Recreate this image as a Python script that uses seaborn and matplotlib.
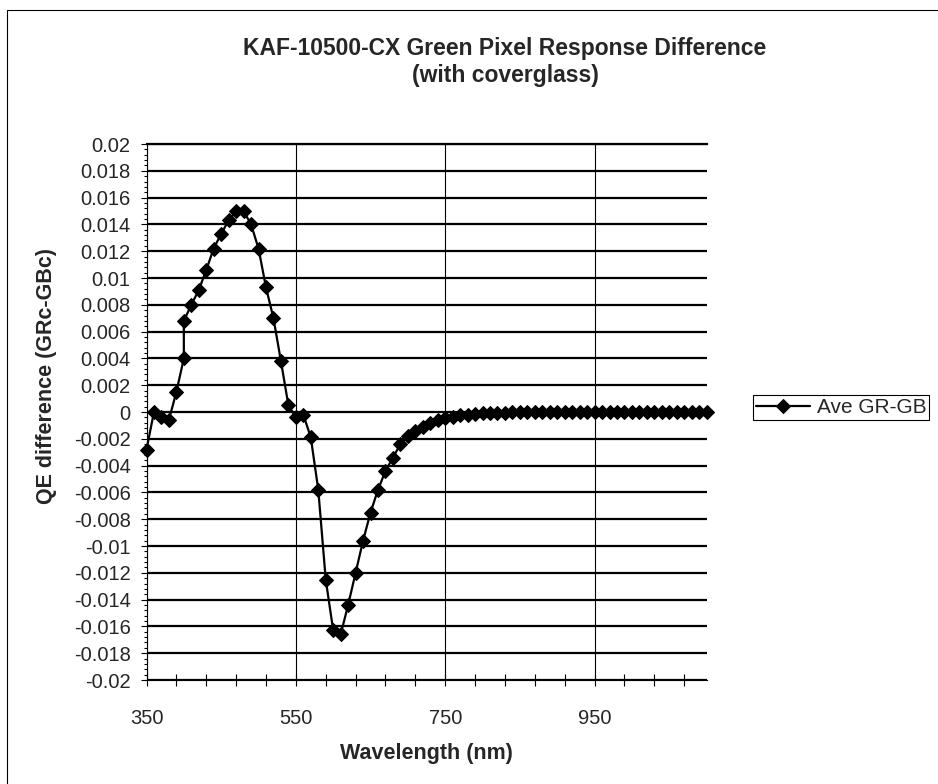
import numpy as np
import pandas as pd
import matplotlib
matplotlib.use('Agg')
import matplotlib.pyplot as plt
import matplotlib.patches as patches
from matplotlib.ticker import MultipleLocator, FixedLocator, FuncFormatter
import seaborn as sns

# Data
wavelength = [350, 360, 370, 380, 390, 400, 400, 410, 420, 430,
              440, 450, 460, 470, 480, 490, 500, 510, 520, 530,
              540, 550, 560, 570, 580, 590, 600, 610, 620, 630,
              640, 650, 660, 670, 680, 690, 700, 710, 720, 730,
              740, 750, 760, 770, 780, 790, 800, 810, 820, 830,
              840, 850, 860, 870, 880, 890, 900, 910, 920, 930,
              940, 950, 960, 970, 980, 990, 1000, 1010, 1020, 1030,
              1040, 1050, 1060, 1070, 1080, 1090, 1100]
qe_diff = [-0.0028, 0.0000, -0.0004, -0.0006, 0.0015, 0.0040, 0.0068, 0.0080, 0.0091, 0.0106,
           0.0122, 0.0133, 0.0143, 0.0150, 0.0150, 0.0140, 0.0122, 0.0093, 0.0070, 0.0038,
           0.0005, -0.0004, -0.0002, -0.0019, -0.0058, -0.0125, -0.0163, -0.0166, -0.0144, -0.0120,
           -0.0096, -0.0075, -0.0058, -0.0044, -0.0034, -0.0024, -0.0018, -0.0014, -0.0011, -0.0008,
           -0.0006, -0.00045, -0.00035, -0.00025, -0.0002, -0.00015, -0.0001, -0.00008, -0.00005, -0.00004,
           -0.00003, -0.00002, -0.00002, -0.00001, -0.00001, 0.0, 0.0, 0.0, 0.0, 0.0,
           0.0, 0.0, 0.0, 0.0, 0.0, 0.0, 0.0, 0.0, 0.0, 0.0,
           0.0, 0.0, 0.0, 0.0, 0.0, 0.0, 0.0]
x_major = [350, 550, 750, 950]
series_name = 'Ave GR-GB'

df = pd.DataFrame({'wl': wavelength, 'qe': qe_diff})

sns.set_style('white')
plt.rcParams['font.family'] = ['Liberation Sans', 'DejaVu Sans']

W, H = 938, 784
fig = plt.figure(figsize=(W / 100, H / 100), dpi=100)
ax = fig.add_axes([146.5 / W, 1 - 680 / H, (706.6 - 146.5) / W, (680 - 144) / H])

sns.lineplot(data=df, x='wl', y='qe', estimator=None, sort=False, ax=ax,
             color='black', linewidth=1.6, marker='D', markersize=7.2,
             markeredgecolor='black', markerfacecolor='black',
             label=series_name, clip_on=False, zorder=5)

ax.set_xlim(350, 1100)
ax.set_ylim(-0.02, 0.02)

ax.xaxis.set_major_locator(FixedLocator(x_major))
ax.xaxis.set_minor_locator(MultipleLocator(40, offset=350 % 40))
ax.yaxis.set_major_locator(MultipleLocator(0.002))
ax.yaxis.set_minor_locator(MultipleLocator(0.0004))


def yfmt(v, pos):
    v = round(v, 4)
    return '0' if v == 0 else f'{v:g}'


ax.yaxis.set_major_formatter(FuncFormatter(yfmt))

ax.tick_params(axis='x', which='both', direction='inout', length=8, width=0.8,
               color='black', labelsize=14.5, pad=17, bottom=True)
ax.tick_params(axis='y', which='major', direction='out', length=4.5, width=0.8,
               color='black', labelsize=14.5, pad=7, left=True)
ax.tick_params(axis='y', which='minor', direction='out', length=2.5, width=0.8,
               color='black', left=True)

ax.grid(False)
ax.yaxis.grid(True, which='major', color='black', linewidth=1.6)
ax.xaxis.grid(True, which='major', color='black', linewidth=0.8)
ax.set_axisbelow(True)

ax.spines['right'].set_visible(False)
ax.spines['top'].set_linewidth(1.6)
ax.spines['left'].set_linewidth(0.8)
ax.spines['bottom'].set_linewidth(0.8)
for s in ax.spines.values():
    s.set_color('black')

ax.set_xlabel('Wavelength (nm)', fontsize=15.5, fontweight='bold')
ax.set_ylabel('QE difference (GRc-GBc)', fontsize=15.5, fontweight='bold')
ax.xaxis.label.set_va('center')
ax.yaxis.label.set_va('center')
ax.xaxis.set_label_coords(0.5, (680 - 753) / (680 - 144))
ax.yaxis.set_label_coords((47 - 146.5) / (706.6 - 146.5), (680 - 376) / (680 - 144))

fig.suptitle('KAF-10500-CX Green Pixel Response Difference\n(with coverglass)',
             x=505 / W, y=1 - 62 / H, va='center', fontsize=16.5, fontweight='bold',
             linespacing=1.25)

leg = ax.legend(loc='upper left', bbox_to_anchor=(753 / W, 1 - 395 / H),
                bbox_transform=fig.transFigure, borderaxespad=0, fontsize=15,
                frameon=True, fancybox=False, framealpha=1, edgecolor='black',
                borderpad=0.15, handlelength=2.6, handletextpad=0.3)
leg.get_frame().set_linewidth(0.8)

# chart area border (only left and top edges fall inside the picture)
fig.patches.append(patches.Rectangle((7 / W, -0.5), 2, 1.5 - 10 / H,
                                     transform=fig.transFigure, fill=False,
                                     edgecolor='black', linewidth=0.8))

fig.savefig('out.png', dpi=100)
